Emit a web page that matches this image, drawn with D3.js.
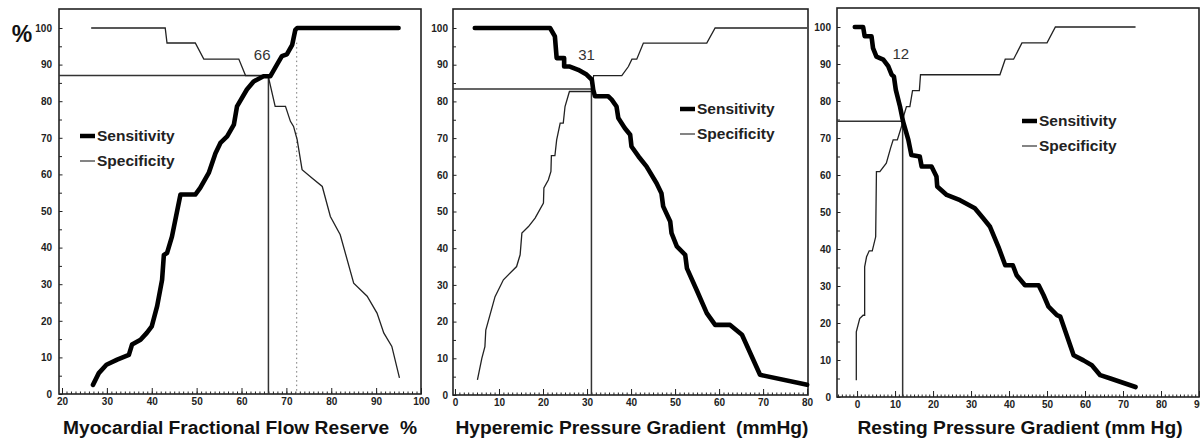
<!DOCTYPE html>
<html lang="en">

<head>
  <meta charset="utf-8">
  <title>Sensitivity / Specificity</title>
  <script src="https://d3js.org/d3.v7.min.js" charset="utf-8"></script>
  <style type="text/css">
    body {
      margin: 0;
      background: #fff;
    }

    text {
      font-family: "Liberation Sans", Arial, sans-serif;
      white-space: pre;
    }

    .tick text {
      font-weight: bold;
      font-size: 10px;
      fill: #222;
    }

    .tick line {
      stroke: #222;
    }
  </style>
</head>

<body>
  <script type="text/javascript">
    // values, [x, %]
    var ffrSens = [[26.9, 2.5], [28.2, 5.7], [29.9, 8], [32.3, 9.4], [34.9, 10.7], [35.6, 13.5], [37.5, 14.8],
      [38.9, 16.7], [40, 18.5], [41.2, 24], [42.3, 31.2], [42.7, 38], [43.4, 38.5], [44.5, 43], [46.4, 54.5],
      [49.7, 54.5], [50.8, 56.3], [52.7, 60.4], [54.2, 65.8], [55.3, 68.6], [56.8, 70.4], [58.3, 73.6],
      [59, 78.6], [61.2, 83.2], [62.7, 85.4], [64.9, 86.8], [66.4, 86.8], [67.9, 90], [69, 92.3], [70.1, 92.8],
      [71.3, 95.4], [72, 99.5], [72.4, 100], [95, 100]];
    var ffrSpec = [[26.5, 100], [43, 100], [43.4, 95.9], [49.7, 95.9], [51.6, 91.5], [59.4, 91.5], [60.9, 87],
      [64.9, 87], [66, 86.6], [67.5, 78.6], [69.8, 78.6], [70.9, 74.5], [71.6, 73.1], [72.4, 69.5], [73.5, 61.3],
      [75.7, 59], [78, 56.7], [79.8, 48.5], [82, 43.5], [85, 30.3], [88, 26.7], [90.2, 22.1], [91.7, 16.7],
      [93.5, 13], [95.2, 4.4]];

    var hypSens = [[4.5, 100], [21.6, 100], [22.7, 97.7], [23.1, 91.8], [24.8, 91.8], [24.8, 89.5], [26.1, 89.5],
      [28, 88.6], [29.9, 87.3], [31.1, 85.9], [31.4, 83.2], [31.8, 81.4], [34.8, 81.4], [35.6, 80.5],
      [36.7, 78.6], [37.1, 75.5], [38.6, 72.7], [39.8, 70.9], [40.1, 67.7], [41.7, 65], [43.5, 62.3],
      [45.8, 57.7], [46.9, 55], [47.3, 51.4], [48.9, 47.3], [49.2, 44.1], [50.4, 40.5], [52.3, 38.2],
      [52.7, 34.5], [54.9, 28.6], [57.2, 22.3], [59.1, 19.1], [62.5, 19.1], [65.2, 16.4], [69.3, 5.5],
      [80, 2.8]];
    var hypSpec = [[5.1, 4.1], [6.1, 10], [6.8, 13.2], [7, 17.7], [9.1, 26.8], [11, 31.4], [14, 35], [14.8, 38.2],
      [15.2, 44.1], [16.7, 45.9], [18.2, 48.2], [20.1, 52.3], [20.2, 56.4], [21.2, 58.6], [21.8, 60.9],
      [21.9, 65.2], [22.7, 65.2], [23.1, 69.5], [23.9, 74.1], [24.6, 74.1], [25, 78.6], [26, 82.7],
      [31, 82.7], [31.5, 87], [37.9, 87], [39.4, 89.5], [40.2, 91.5], [41.3, 91.5], [42.8, 95.9],
      [57.2, 95.9], [59.1, 100], [80, 100]];

    var restSens = [[-0.6, 100], [1.6, 100], [2, 97.5], [3.8, 97.5], [4.2, 94.3], [5.1, 92], [6.9, 91.2],
      [8.2, 89.4], [9.1, 87.1], [9.7, 86.6], [10.2, 83], [11.3, 78.5], [12.1, 74.5], [13.5, 69.5],
      [14.3, 65.4], [16.5, 65], [17, 62.3], [19.6, 62.3], [20.9, 59.6], [21.1, 56.9], [23.6, 54.6],
      [27.1, 53.2], [31, 51], [33.2, 48.3], [35, 46], [37.2, 40.6], [39, 35.6], [41, 35.6], [42, 32.9],
      [44.2, 30.2], [47.8, 30.2], [49.1, 27.5], [50.4, 24.4], [52.6, 22.1], [53.5, 21.7], [57, 11.3],
      [59.6, 9.9], [61.8, 8.6], [64, 5.9], [66.7, 5], [73.3, 2.7]];
    var restSpec = [[-0.2, 4.5], [-0.2, 17.6], [0.7, 21.2], [1.6, 22.1], [2, 22.1], [2, 35.2], [2.5, 37.9],
      [3.2, 39.5], [4, 39.5], [4.9, 43.3], [5.1, 60.9], [6, 60.9], [7.7, 63.2], [8.8, 67.2], [9.5, 69.5],
      [10.6, 69.5], [11.7, 73.1], [12.1, 75.4], [13, 78.5], [13.9, 78.5], [14.6, 82.8], [16.4, 82.8],
      [16.7, 87.1], [37.6, 87.1], [39, 91.3], [41.2, 91.3], [43.4, 95.7], [50, 95.7], [52.2, 100],
      [73.3, 100]];

    var ffrTicks = [20, 30, 40, 50, 60, 70, 80, 90, 100];
    var hypTicks = [0, 10, 20, 30, 40, 50, 60, 70, 80];
    var restTicks = [0, 10, 20, 30, 40, 50, 60, 70, 80, 90];
    var yTicks = [0, 10, 20, 30, 40, 50, 60, 70, 80, 90, 100];

    var titles = ["Myocardial Fractional Flow Reserve  %", "Hyperemic Pressure Gradient  (mmHg)",
      "Resting Pressure Gradient (mm Hg)"];
    var cutoffs = [66, 31, 12];
    var cutoffPct = [87, 83.4, 74.5];
    var cutoffLabelX = [64.6, 29.9, 11.5];
    var ffrDotted = 72.3;   // dotted line in the FFR panel
    var ffrDottedTop = 96;

    // layout (pixels)
    var layout = [
      { left: 59, right: 421, top: 9, y0: 394, y100: 28, xDomain: [19.33, 100], ticks: ffrTicks,
        minor: d3.range(20, 100, 1), sens: ffrSens, spec: ffrSpec, pad: 7, legendX: 80, legendY: 136, titleX: 240 },
      { left: 453, right: 808, top: 9, y0: 395, y100: 28, xDomain: [-0.45, 80.2], ticks: hypTicks,
        minor: d3.range(0, 81, 1), sens: hypSens, spec: hypSpec, pad: 5, legendX: 680, legendY: 109, titleX: 632 },
      { left: 837, right: 1199, top: 8, y0: 397, y100: 27, xDomain: [-5.28, 90], ticks: restTicks,
        minor: d3.range(-5, 90, 1), sens: restSens, spec: restSpec, pad: 6, legendX: 1022, legendY: 121, titleX: 1020 }
    ];

    var svg = d3.select("body")
      .append("svg")
      .attr("width", 1200)
      .attr("height", 440);

    layout.forEach(function (p, i) {
      var x = d3.scaleLinear().domain(p.xDomain).range([p.left, p.right]);
      var y = d3.scaleLinear().domain([0, 100]).range([p.y0, p.y100]);
      var g = svg.append("g");

      // minor x ticks
      g.append("g")
        .attr("transform", "translate(0," + p.y0 + ")")
        .call(d3.axisBottom(x).tickValues(p.minor).tickSize(-2.5).tickFormat(""))
        .call(function (a) { a.select(".domain").remove(); });

      // major x ticks
      g.append("g")
        .attr("transform", "translate(0," + p.y0 + ")")
        .call(d3.axisBottom(x).tickValues(p.ticks).tickSize(-6).tickPadding(4))
        .call(function (a) { a.select(".domain").remove(); });

      // y ticks
      g.append("g")
        .attr("transform", "translate(" + p.left + ",0)")
        .call(d3.axisLeft(y).tickValues(d3.range(5, 100, 10)).tickSize(-3).tickFormat(""))
        .call(function (a) { a.select(".domain").remove(); });
      g.append("g")
        .attr("transform", "translate(" + p.left + ",0)")
        .call(d3.axisLeft(y).tickValues(yTicks).tickSize(-3.5).tickPadding(p.pad))
        .call(function (a) { a.select(".domain").remove(); a.selectAll("line").attr("x1", 0); });

      // frame
      g.append("rect")
        .attr("x", p.left)
        .attr("y", p.top)
        .attr("width", p.right - p.left)
        .attr("height", p.y0 - p.top)
        .attr("fill", "none")
        .attr("stroke", "#222")
        .attr("stroke-width", 1.6);

      // cutoff lines
      g.append("path")
        .attr("d", "M" + p.left + "," + y(cutoffPct[i]) + "H" + x(cutoffs[i]) + "V" + y(0))
        .attr("fill", "none")
        .attr("stroke", "#333")
        .attr("stroke-width", 1.5);

      if (i === 0) {
        g.append("line")
          .attr("x1", x(ffrDotted)).attr("x2", x(ffrDotted))
          .attr("y1", y(ffrDottedTop)).attr("y2", y(0))
          .attr("stroke", "#777")
          .attr("stroke-width", 1)
          .attr("stroke-dasharray", "1.5,3");
      }

      g.append("text")
        .attr("x", x(cutoffLabelX[i]))
        .attr("y", y(92.7))
        .attr("dy", "0.35em")
        .attr("text-anchor", "middle")
        .attr("font-size", "15px")
        .attr("fill", "#333")
        .text(cutoffs[i]);

      var line = d3.line()
        .x(function (d) { return x(d[0]); })
        .y(function (d) { return y(d[1]); });

      g.append("path")
        .datum(p.spec)
        .attr("d", line)
        .attr("fill", "none")
        .attr("stroke", "#222")
        .attr("stroke-width", 1.3);

      g.append("path")
        .datum(p.sens)
        .attr("d", line)
        .attr("fill", "none")
        .attr("stroke", "#000")
        .attr("stroke-width", 4.6)
        .attr("stroke-linejoin", "round")
        .attr("stroke-linecap", "round");

      // legend
      var lg = g.append("g").attr("transform", "translate(" + p.legendX + "," + p.legendY + ")");
      lg.append("line").attr("x1", 0).attr("x2", 15).attr("y1", 0).attr("y2", 0)
        .attr("stroke", "#000").attr("stroke-width", 4.5);
      lg.append("text").attr("x", 17).attr("dy", "0.35em")
        .attr("font-size", "15.5px").attr("font-weight", "bold").attr("fill", "#222")
        .text("Sensitivity");
      lg.append("line").attr("x1", 0).attr("x2", 15).attr("y1", 25).attr("y2", 25)
        .attr("stroke", "#333").attr("stroke-width", 1.2);
      lg.append("text").attr("x", 17).attr("y", 25).attr("dy", "0.35em")
        .attr("font-size", "15.5px").attr("font-weight", "bold").attr("fill", "#222")
        .text("Specificity");

      // x title
      g.append("text")
        .attr("x", p.titleX)
        .attr("y", 427)
        .attr("dy", "0.35em")
        .attr("text-anchor", "middle")
        .attr("font-size", "19.2px")
        .attr("font-weight", "bold")
        .attr("fill", "#111")
        .text(titles[i]);
    });

    svg.append("text")
      .attr("x", 22)
      .attr("y", 34)
      .attr("dy", "0.35em")
      .attr("text-anchor", "middle")
      .attr("font-size", "23px")
      .attr("font-weight", "bold")
      .attr("fill", "#111")
      .text("%");
  </script>
</body>

</html>
